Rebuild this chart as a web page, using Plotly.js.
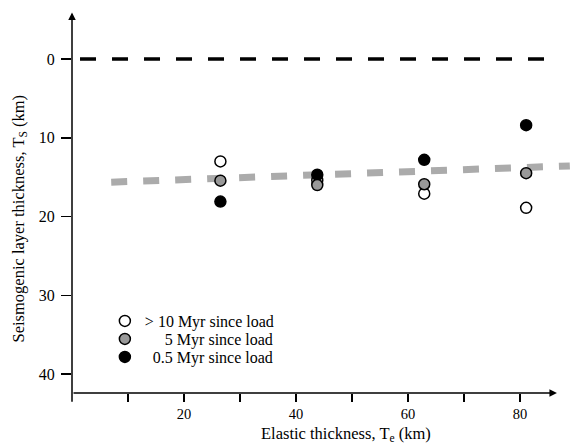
<!DOCTYPE html>
<html><head><meta charset="utf-8">
<script src="https://cdn.plot.ly/plotly-3.0.1.min.js"></script>
<style>html,body{margin:0;padding:0;background:#fff}#chart{width:570px;height:445px}</style>
</head><body><div id="chart"></div>
<script>
// Elastic thickness Te (km) of each site
const te = [26.5, 43.8, 62.9, 81.1];
// Seismogenic layer thickness Ts (km) by time since load
const tsOld = [13.0, 15.4, 17.1, 18.9];   // > 10 Myr since load
const ts5   = [15.45, 16.0, 15.9, 14.5];  // 5 Myr since load
const ts05  = [18.1, 14.7, 12.8, 8.4];    // 0.5 Myr since load
// gray dashed trend line
const fitTe = [7.0, 88.9];
const fitTs = [15.64, 13.57];
// black dashed reference line at Ts = 0
const refTe = [1.43, 84.3];
const refTs = [0, 0];
// ticks
const xTickVals = [10, 20, 30, 40, 50, 60, 70, 80];
const xTickText = ['', '20', '', '40', '', '60', '', '80'];
const yTickVals = [0, 10, 20, 30, 40];
const names = ['> 10 Myr since load', '\u2007\u2007\u00a05 Myr since load', '\u20070.5 Myr since load'];

const FONT = 'Liberation Serif, Times New Roman, serif';
const mk = (fill) => ({size: 11, color: fill, line: {color: '#000', width: 1.5}});

const traces = [
  {x: fitTe, y: fitTs, mode: 'lines', line: {color: '#ababab', width: 7, dash: '16px,16px'}, showlegend: false, hoverinfo: 'skip'},
  {x: refTe, y: refTs, mode: 'lines', line: {color: '#000', width: 3.5, dash: '16px,16px'}, showlegend: false, hoverinfo: 'skip'},
  {x: te, y: tsOld, mode: 'markers', name: names[0], marker: mk('#fff'), legend: 'legend'},
  {x: te, y: ts05, mode: 'markers', name: names[2], marker: mk('#000'), legend: 'legend3'},
  {x: te, y: ts5, mode: 'markers', name: names[1], marker: mk('#999'), legend: 'legend2'}
];

const legBase = (y) => ({x: 0.066, y: y, xanchor: 'left', yanchor: 'middle', bgcolor: 'rgba(0,0,0,0)',
  font: {family: FONT, size: 16, color: '#000'}, borderwidth: 0});

const layout = {
  width: 570, height: 445,
  margin: {l: 72, r: 0, t: 12, b: 52},
  paper_bgcolor: '#fff', plot_bgcolor: '#fff',
  font: {family: FONT, size: 15, color: '#000'},
  xaxis: {range: [0, 88.93], showgrid: false, zeroline: false, showline: false,
    tickmode: 'array', tickvals: xTickVals, ticktext: xTickText, ticks: 'outside', ticklen: 8, tickwidth: 1.5,
    tickcolor: '#000', tickfont: {family: FONT, size: 14.5}},
  yaxis: {range: [42.41, -5.97], showgrid: false, zeroline: false, showline: false,
    tickmode: 'array', tickvals: yTickVals, ticks: 'outside', ticklen: 10, tickwidth: 1.5,
    tickcolor: '#000', tickfont: {family: FONT, size: 16}, ticklabelstandoff: 3},
  legend: legBase(0.189),
  legend2: legBase(0.1417),
  legend3: legBase(0.0945),
  annotations: [
    {x: 0, y: -5.9, xref: 'x', yref: 'y', ax: 0, ay: 43.7, axref: 'x', ayref: 'y', text: '',
      showarrow: true, arrowhead: 2, arrowsize: 1, arrowwidth: 1.5, arrowcolor: '#000', standoff: 0},
    {x: 86.6, y: 42.41, xref: 'x', yref: 'y', ax: 0, ay: 42.41, axref: 'x', ayref: 'y', text: '',
      showarrow: true, arrowhead: 2, arrowsize: 1, arrowwidth: 1.5, arrowcolor: '#000', standoff: 0},
    {x: -0.1084, y: 0.458, xref: 'paper', yref: 'paper', text: 'Seismogenic layer thickness, T<sub>S</sub> (km)',
      textangle: -90, showarrow: false, font: {family: FONT, size: 16.5}, xanchor: 'center', yanchor: 'middle'},
    {x: 0.5496, y: -0.1063, xref: 'paper', yref: 'paper', text: 'Elastic thickness, T<sub>e</sub> (km)',
      showarrow: false, font: {family: FONT, size: 16.5}, xanchor: 'center', yanchor: 'middle'}
  ]
};

Plotly.newPlot('chart', traces, layout, {displayModeBar: false, staticPlot: true});
</script></body></html>
